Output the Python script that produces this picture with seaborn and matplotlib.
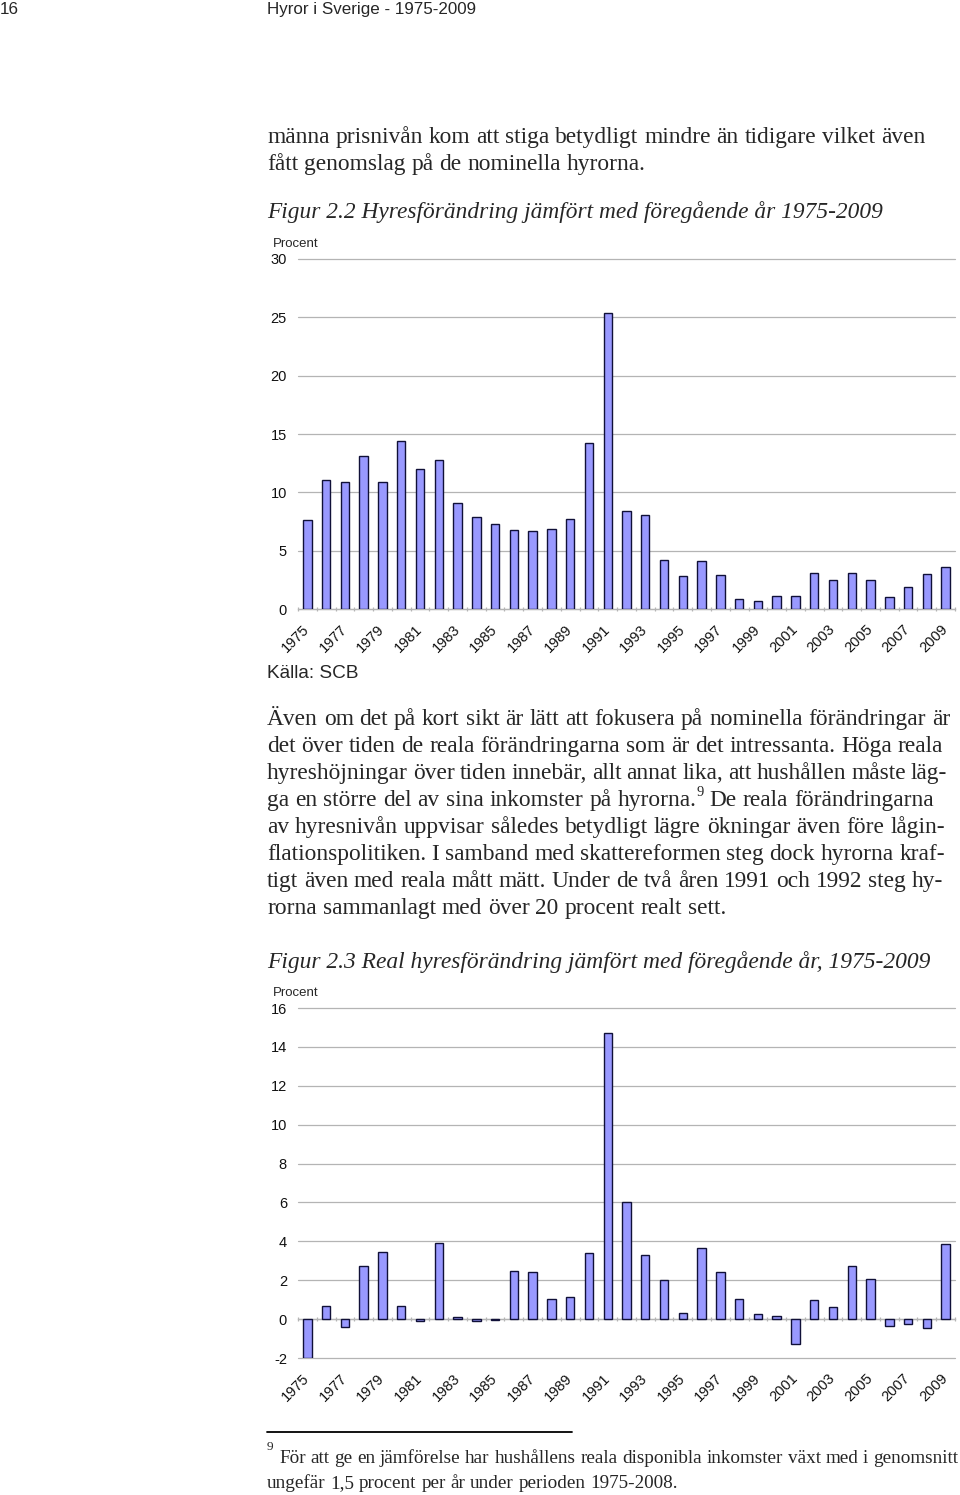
import matplotlib
matplotlib.use("Agg")
import matplotlib.pyplot as plt
import seaborn as sns
import numpy as np
import pandas as pd

# ---------------- data ----------------
years = list(range(1975, 2010))
nominal = [7.6, 11.1, 10.9, 13.1, 10.9, 14.4, 12.0, 12.8, 9.1, 7.9,
           7.3, 6.8, 6.7, 6.9, 7.7, 14.2, 25.4, 8.4, 8.1, 4.2,
           2.8, 4.1, 2.9, 0.9, 0.7, 1.1, 1.1, 3.1, 2.5, 3.1,
           2.5, 1.0, 1.9, 3.0, 3.6]
real = [-2.0, 0.7, -0.4, 2.75, 3.45, 0.7, -0.1, 3.9, 0.1, -0.1,
        -0.05, 2.5, 2.4, 1.05, 1.15, 3.4, 14.7, 6.0, 3.3, 2.0,
        0.3, 3.65, 2.4, 1.05, 0.25, 0.15, -1.3, 1.0, 0.6, 2.75,
        2.05, -0.35, -0.25, -0.45, 3.85]
tick_years = years[::2]
yticks1 = [0, 5, 10, 15, 20, 25, 30]
yticks2 = [-2, 0, 2, 4, 6, 8, 10, 12, 14, 16]

# ---------------- style ----------------
sns.set_style("white")
plt.rcParams["font.family"] = ["Liberation Sans", "DejaVu Sans"]
BAR = "#9999ff"
EDGE = "#101038"
GRID = "#b4b4b4"
SERIF = ["Liberation Serif", "DejaVu Serif"]
SANS = ["Liberation Sans", "DejaVu Sans"]

W, H = 960, 1495
fig = plt.figure(figsize=(W / 100, H / 100), dpi=100)
fig.patch.set_facecolor("white")
renderer = fig.canvas.get_renderer()


def fx(x):
    return x / W


def fy(y):
    return 1 - y / H


def measure(s, **kw):
    t = fig.text(0, 0, s, **kw)
    w = t.get_window_extent(renderer).width
    t.remove()
    return w


def fit_size(s, width, **kw):
    return 10 * width / measure(s, fontsize=10, **kw)


def put_word(word, x, y, size, **kw):
    """Place a word at pixel x / baseline y; supports 'word^sup'."""
    if "^" in word:
        main, sup = word.split("^")
        fig.text(fx(x), fy(y), main, ha="left", va="baseline", fontsize=size, **kw)
        wm = measure(main, fontsize=size, **kw)
        fig.text(fx(x + wm), fy(y - size * 0.6), sup, ha="left",
                 va="baseline", fontsize=size * 0.62, **kw)
        return
    fig.text(fx(x), fy(y), word, ha="left", va="baseline", fontsize=size, **kw)


def word_width(word, size, **kw):
    if "^" in word:
        main, sup = word.split("^")
        return measure(main, fontsize=size, **kw) + measure(sup, fontsize=size * 0.62, **kw)
    return measure(word, fontsize=size, **kw)


def put_line(s, x0, y, size, x1=None, **kw):
    words = s.split(" ")
    widths = [word_width(w, size, **kw) for w in words]
    space = measure("a a", fontsize=size, **kw) - 2 * measure("a", fontsize=size, **kw)
    if x1 is not None and len(words) > 1:
        gap = (x1 - x0 - sum(widths)) / (len(words) - 1)
    else:
        gap = space
    x = x0
    for w, wd in zip(words, widths):
        put_word(w, x, y, size, **kw)
        x += wd + gap


# ---------------- header ----------------
hs = fit_size("Hyror i Sverige - 1975-2009", 209, family=SANS)
fig.text(fx(0), fy(14), "16", ha="left", va="baseline", fontsize=hs, family=SANS)
fig.text(fx(267), fy(14), "Hyror i Sverige - 1975-2009", ha="left", va="baseline",
         fontsize=hs, family=SANS)

# ---------------- body text ----------------
body = fit_size("rorna sammanlagt med över 20 procent realt sett.", 459, family=SERIF)
put_line("männa prisnivån kom att stiga betydligt mindre än tidigare vilket även",
         267, 143, body, x1=925, family=SERIF)
put_line("fått genomslag på de nominella hyrorna.", 267, 170, body, family=SERIF)

cap1 = "Figur 2.2 Hyresförändring jämfört med föregående år 1975-2009"
cs1 = fit_size(cap1, 617, family=SERIF, style="italic")
fig.text(fx(267), fy(218), cap1, ha="left", va="baseline", fontsize=cs1,
         family=SERIF, style="italic")

para = [
    ("Även om det på kort sikt är lätt att fokusera på nominella förändringar är", 950),
    ("det över tiden de reala förändringarna som är det intressanta. Höga reala", 943),
    ("hyreshöjningar över tiden innebär, allt annat lika, att hushållen måste läg-", 947),
    ("ga en större del av sina inkomster på hyrorna.^9 De reala förändringarna", 934),
    ("av hyresnivån uppvisar således betydligt lägre ökningar även före lågin-", 945),
    ("flationspolitiken. I samband med skattereformen steg dock hyrorna kraf-", 945),
    ("tigt även med reala mått mätt. Under de två åren 1991 och 1992 steg hy-", 943),
    ("rorna sammanlagt med över 20 procent realt sett.", None),
]
for i, (line, x1) in enumerate(para):
    put_line(line, 267, 725 + 27 * i, body, x1=x1, family=SERIF)

cap2 = "Figur 2.3 Real hyresförändring jämfört med föregående år, 1975-2009"
cs2 = fit_size(cap2, 666, family=SERIF, style="italic")
fig.text(fx(267), fy(968), cap2, ha="left", va="baseline", fontsize=cs2,
         family=SERIF, style="italic")

# footnote
fig.add_artist(plt.Line2D([fx(267), fx(572)], [fy(1432), fy(1432)], color="black", lw=1.3))
fn = fit_size("ungefär 1,5 procent per år under perioden 1975-2008.", 411, family=SERIF)
fig.text(fx(267), fy(1450), "9", ha="left", va="baseline", fontsize=fn * 0.7, family=SERIF)
put_line("För att ge en jämförelse har hushållens reala disponibla inkomster växt med i genomsnitt",
         279, 1463, fn, x1=958, family=SERIF)
put_line("ungefär 1,5 procent per år under perioden 1975-2008.", 267, 1488, fn, family=SERIF)

# ---------------- charts ----------------
df1 = pd.DataFrame({"year": years, "value": nominal})
df2 = pd.DataFrame({"year": years, "value": real})


def style_axis(ax, ylim, yticks):
    ax.set_xlim(-0.5, len(years) - 0.5)
    ax.set_ylim(*ylim)
    ax.set_yticks(yticks)
    ax.set_yticklabels([str(v) for v in yticks])
    ax.yaxis.grid(True, color=GRID, lw=0.9)
    for gl in ax.get_ygridlines():
        gl.set_clip_on(False)
    ax.xaxis.grid(False)
    ax.set_axisbelow(True)
    for sp in ax.spines.values():
        sp.set_visible(False)
    ax.set_xlabel("")
    ax.set_ylabel("")
    ax.set_xticks(range(0, len(years), 2))
    ax.set_xticklabels([str(y) for y in tick_years], rotation=45, ha="right",
                       va="center", rotation_mode="anchor")
    ax.tick_params(axis="x", length=0, pad=13, labelsize=10.5, labelcolor="#111111")
    ax.tick_params(axis="y", length=0, pad=8, labelsize=10.5, labelcolor="#111111")
    ax.set_facecolor("white")
    # category axis at zero with small ticks between categories
    sec = ax.secondary_xaxis(0, transform=ax.transData)
    sec.set_xticks(np.arange(-0.5, len(years), 1))
    sec.set_xticklabels([])
    sec.tick_params(axis="x", length=3, direction="inout", color=GRID, width=0.9)
    for name, sp in sec.spines.items():
        sp.set_visible(name == "bottom")
    sec.spines["bottom"].set_color(GRID)
    sec.spines["bottom"].set_linewidth(0.9)


ax1 = fig.add_axes([298 / W, 1 - 609 / H, 657 / W, 350 / H])
sns.barplot(data=df1, x="year", y="value", color=BAR, edgecolor=EDGE, linewidth=1.0,
            width=0.45, saturation=1, ax=ax1)
style_axis(ax1, (0, 30), yticks1)

ax2 = fig.add_axes([298 / W, 1 - 1358 / H, 657 / W, 350 / H])
sns.barplot(data=df2, x="year", y="value", color=BAR, edgecolor=EDGE, linewidth=1.0,
            width=0.45, saturation=1, ax=ax2)
style_axis(ax2, (-2, 16), yticks2)

# labels near charts
fig.text(fx(273), fy(247), "Procent", ha="left", va="baseline", fontsize=9.5, family=SANS)
fig.text(fx(273), fy(996), "Procent", ha="left", va="baseline", fontsize=9.5, family=SANS)
ks = fit_size("Källa: SCB", 92, family=SANS)
fig.text(fx(267), fy(678), "Källa: SCB", ha="left", va="baseline", fontsize=ks, family=SANS)

fig.savefig("out.png", dpi=100, facecolor="white")
